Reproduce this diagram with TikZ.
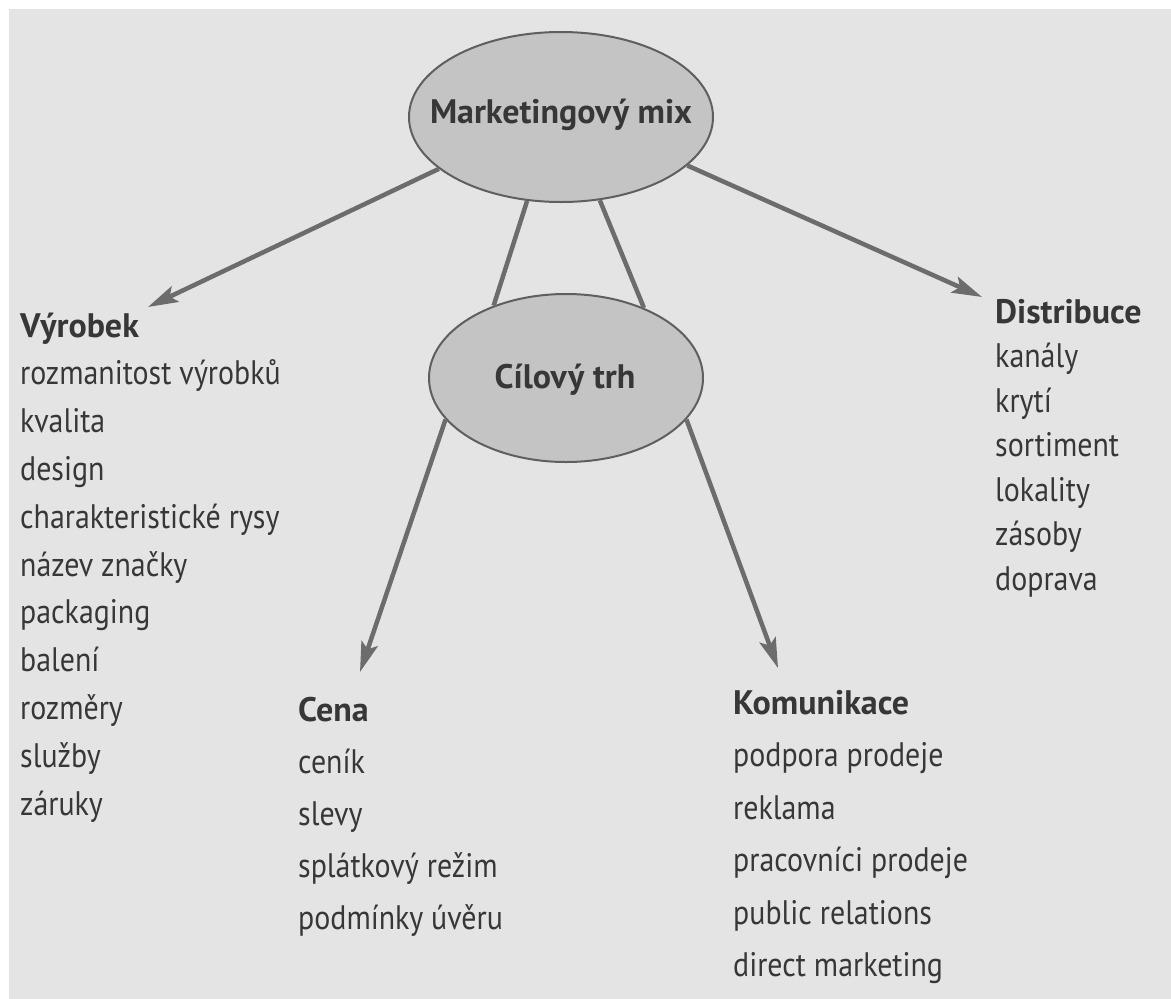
\documentclass[tikz,border=0pt]{standalone}
\usepackage{fontspec}
\setmainfont{PT Sans}[FakeStretch=0.88, BoldFeatures={FakeStretch=1.0}]
\usetikzlibrary{shapes.geometric,arrows.meta}
\definecolor{bgc}{RGB}{228,228,228}
\definecolor{ellc}{RGB}{196,196,196}
\definecolor{edgec}{RGB}{95,95,95}
\definecolor{arrc}{RGB}{108,108,108}
\definecolor{txtc}{RGB}{55,55,55}
\newcommand{\listblock}[2]{{\fontsize{34}{#1}\selectfont\begin{tabular}[t]{@{}l@{}}#2\end{tabular}}}
\tikzset{
  oval/.style={ellipse, draw=edgec, line width=2pt, fill=ellc, inner sep=0pt},
  conn/.style={draw=arrc, line width=4.5pt},
  arr/.style={conn, -{Stealth[length=30pt,width=17pt,inset=6pt]}},
  ovaltext/.style={font=\fontsize{34}{40}\selectfont\bfseries, text=txtc, inner sep=0pt, anchor=base},
  listbox/.style={font=\fontsize{34}{44}\selectfont, text=txtc, inner sep=0pt, anchor=base west},
}
\begin{document}
\begin{tikzpicture}[x=1pt,y=-1pt]
\useasboundingbox (0,0) rectangle (1171,999);
\fill[white] (0,0) rectangle (1171,999);
\fill[bgc] (9,9) rectangle (1171,999);

% ovals
\node[oval, minimum width=304pt, minimum height=170pt] (mm) at (561,117) {};
\node[oval, minimum width=274pt, minimum height=168pt] (ct) at (566,378) {};
\node[ovaltext] (mmt) at (561,123) {Marketingový mix};
\node[ovaltext] (ctt) at (565,388) {Cílový trh};

% text blocks
\node[listbox] (vyr) at (20,337) {\listblock{47.8}{\textbf{Výrobek}\\ rozmanitost výrobků\\ kvalita\\ design\\ charakteristické rysy\\ název značky\\ packaging\\ balení\\ rozměry\\ služby\\ záruky}};
\node[listbox] (dis) at (995,323) {\listblock{44.5}{\textbf{Distribuce}\\ kanály\\ krytí\\ sortiment\\ lokality\\ zásoby\\ doprava}};
\node[listbox] (cen) at (298,721) {\listblock{52}{\textbf{Cena}\\ ceník\\ slevy\\ splátkový režim\\ podmínky úvěru}};
\node[listbox] (kom) at (733,714) {\listblock{52.5}{\textbf{Komunikace}\\ podpora prodeje\\ reklama\\ pracovníci prodeje\\ public relations\\ direct marketing}};

% arrow tips
\coordinate (tV) at (148,307);
\coordinate (tD) at (982,297);
\coordinate (tC) at (360,672);
\coordinate (tK) at (778,668);

% connectors
\draw[conn] (mm.248) -- (ct.135);
\draw[conn] (mm.295) -- (ct.42);
\draw[arr] (mm.203) -- (tV);
\draw[arr] (mm.339) -- (tD);
\draw[arr] (ct.199) -- (tC);
\draw[arr] (ct.341) -- (tK);
\end{tikzpicture}
\end{document}
